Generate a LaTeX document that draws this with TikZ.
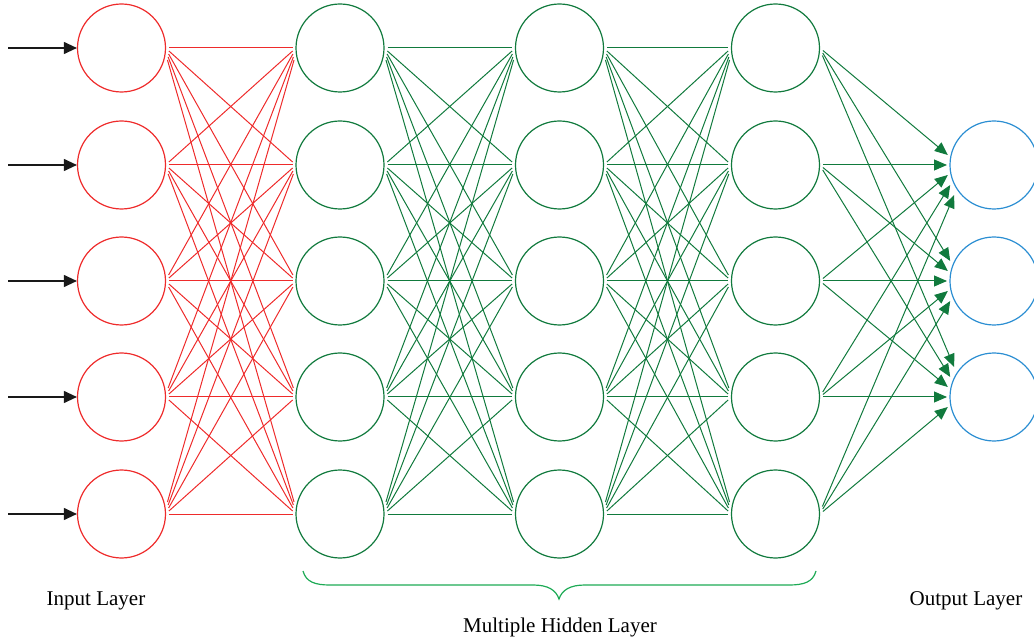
\documentclass[tikz,border=0pt]{standalone}
\usepackage{fontspec}
\setmainfont{Liberation Serif}
\usetikzlibrary{arrows.meta}
\definecolor{nnred}{HTML}{EE2B2B}
\definecolor{nngreen}{HTML}{117A3D}
\definecolor{nnblue}{HTML}{2B8ED2}
\definecolor{bracegreen}{HTML}{1DAA55}
\begin{document}
\begin{tikzpicture}[x=1pt,y=-1pt,
  neuron/.style={circle,draw,line width=1.2pt,minimum size=88pt,inner sep=0pt},
  incirc/.style={neuron,draw=nnred},
  hidcirc/.style={neuron,draw=nngreen},
  outcirc/.style={neuron,draw=nnblue},
  inarrow/.style={line width=1.1pt,black!90,-{Triangle[length=13pt,width=12pt]}},
  redline/.style={line width=1pt,nnred},
  greenline/.style={line width=1pt,nngreen},
  outarrow/.style={line width=1pt,nngreen,-{Triangle[length=13pt,width=11pt]}},
  bracestyle/.style={line width=1.2pt,bracegreen},
  lbl/.style={font=\fontsize{21}{24}\selectfont,text=black,inner sep=0pt}]
\useasboundingbox (0,0) rectangle (1034,644);
\clip (0,0) rectangle (1034,644);
% nodes
\foreach \i/\y in {1/48,2/165,3/281,4/397,5/514} {
  \node[incirc] (in\i) at (121.5,\y) {};
  \node[hidcirc] (ha\i) at (340,\y) {};
  \node[hidcirc] (hb\i) at (559.5,\y) {};
  \node[hidcirc] (hc\i) at (775.5,\y) {};
  \coordinate (src\i) at (8,\y);
  \draw[inarrow] (src\i) -- (in\i.west);
}
\foreach \j/\y in {1/165,2/281,3/397} {
  \node[outcirc] (out\j) at (994,\y) {};
}
% layer-to-layer connections
\foreach \i in {1,...,5} {
  \foreach \k in {1,...,5} {
    \pgfmathsetmacro\d{(\k-\i)*3}
    \pgfmathsetmacro\dx{sqrt(47.5*47.5-\d*\d)}
    \draw[redline] ([shift={(\dx,\d)}]in\i.center) -- ([shift={(-\dx,-\d)}]ha\k.center);
    \draw[greenline] ([shift={(\dx,\d)}]ha\i.center) -- ([shift={(-\dx,-\d)}]hb\k.center);
    \draw[greenline] ([shift={(\dx,\d)}]hb\i.center) -- ([shift={(-\dx,-\d)}]hc\k.center);
  }
}
% hidden 3 -> output
\foreach \i in {1,...,5} {
  \foreach \j in {1,2,3} {
    \pgfmathsetmacro\d{(\j+1-\i)*2.5}
    \pgfmathsetmacro\dx{sqrt(47.5*47.5-\d*\d)}
    \pgfmathsetmacro\off{10*(\i-\j-1)}
    \pgfmathsetmacro\tx{-47+0.008*\off*\off}
    \coordinate (t\i\j) at ([shift={(\tx,\off)}]out\j.center);
    \draw[outarrow] ([shift={(\dx,\d)}]hc\i.center) -- (t\i\j);
  }
}
% brace
\draw[bracestyle] (303,571) .. controls (306,582) and (315,585) .. (330,585)
  -- (533,585) .. controls (548,585) and (556,590) .. (559,599)
  .. controls (562,590) and (570,585) .. (585,585) -- (789,585)
  .. controls (804,585) and (813,582) .. (816,571);
% labels
\node[lbl] (lin) at (96,601) {Input Layer};
\node[lbl] (lhid) at (560,627) {Multiple Hidden Layer};
\node[lbl] (lout) at (966,601) {Output Layer};
\end{tikzpicture}
\end{document}
